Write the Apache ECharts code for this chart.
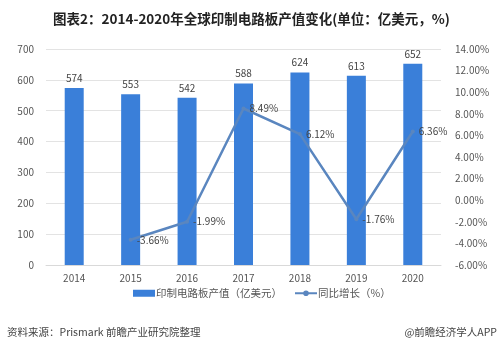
<!DOCTYPE html>
<html>
<head>
<meta charset="utf-8">
<script src="https://cdn.jsdelivr.net/npm/echarts@6/dist/echarts.min.js"></script>
<style>
  html, body { margin: 0; padding: 0; background: #fff; }
  #chart { width: 503px; height: 350px; }
</style>
</head>
<body>
<div id="chart"></div>
<script>
// --- Data ---
const years = ['2014', '2015', '2016', '2017', '2018', '2019', '2020'];
const pcbValue = [574, 553, 542, 588, 624, 613, 652];           // 亿美元
const growthRate = [null, -3.66, -1.99, 8.49, 6.12, -1.76, 6.36]; // %

const FONT = '"Noto Sans CJK SC", "Microsoft YaHei", sans-serif';

const chart = echarts.init(document.getElementById('chart'), null, { renderer: 'canvas' });

chart.setOption({
    animation: false,
    textStyle: { fontFamily: FONT },
    title: {
        text: '图表2：2014-2020年全球印制电路板产值变化(单位：亿美元，%)',
        left: 'center',
        top: 7,
        textStyle: { fontSize: 13.5, fontWeight: 'bold', color: '#222', fontFamily: FONT }
    },
    grid: { left: 46, right: 62, top: 49, bottom: 85 },
    legend: {
        top: 283,
        left: 128,
        itemGap: 12,
        itemWidth: 22,
        itemHeight: 7,
        textStyle: { fontSize: 10.5, color: '#555', padding: [0, 0, 0, -4] },
        data: [
            { name: '印制电路板产值（亿美元）', icon: 'rect' },
            { name: '同比增长（%）' }
        ]
    },
    xAxis: {
        type: 'category',
        data: years,
        axisLine: { lineStyle: { color: '#d9d9d9' } },
        axisTick: { show: false },
        axisLabel: { color: '#555', fontSize: 10, margin: 8 }
    },
    yAxis: [
        {
            type: 'value',
            min: 0, max: 700, interval: 100,
            axisLine: { show: false },
            axisTick: { show: false },
            axisLabel: { color: '#555', fontSize: 10, margin: 12 },
            splitLine: { lineStyle: { color: '#e3e3e3' } }
        },
        {
            type: 'value',
            min: -6, max: 14, interval: 2,
            axisLine: { show: false },
            axisTick: { show: false },
            axisLabel: { color: '#555', fontSize: 10, margin: 14, formatter: v => v.toFixed(2) + '%' },
            splitLine: { show: false }
        }
    ],
    series: [
        {
            name: '印制电路板产值（亿美元）',
            type: 'bar',
            data: pcbValue,
            barWidth: 19,
            itemStyle: { color: '#3a7fd9' },
            label: { show: true, position: 'top', color: '#444', fontSize: 10, distance: 5 }
        },
        {
            name: '同比增长（%）',
            type: 'line',
            yAxisIndex: 1,
            data: growthRate,
            symbol: 'circle',
            symbolSize: 4,
            showSymbol: true,
            lineStyle: { color: '#5a86bf', width: 2.5 },
            itemStyle: { color: '#5a86bf' },
            label: {
                show: true, position: 'right', color: '#444', fontSize: 10, distance: 4,
                formatter: p => p.value.toFixed(2) + '%'
            }
        }
    ],
    graphic: [
        {
            type: 'text', left: 7, top: 327,
            style: { text: '资料来源：Prismark 前瞻产业研究院整理', fill: '#444', fontSize: 10.5, fontFamily: FONT }
        },
        {
            type: 'text', right: 6, top: 327,
            style: { text: '@前瞻经济学人APP', fill: '#444', fontSize: 10.5, fontFamily: FONT }
        }
    ]
});
</script>
</body>
</html>
